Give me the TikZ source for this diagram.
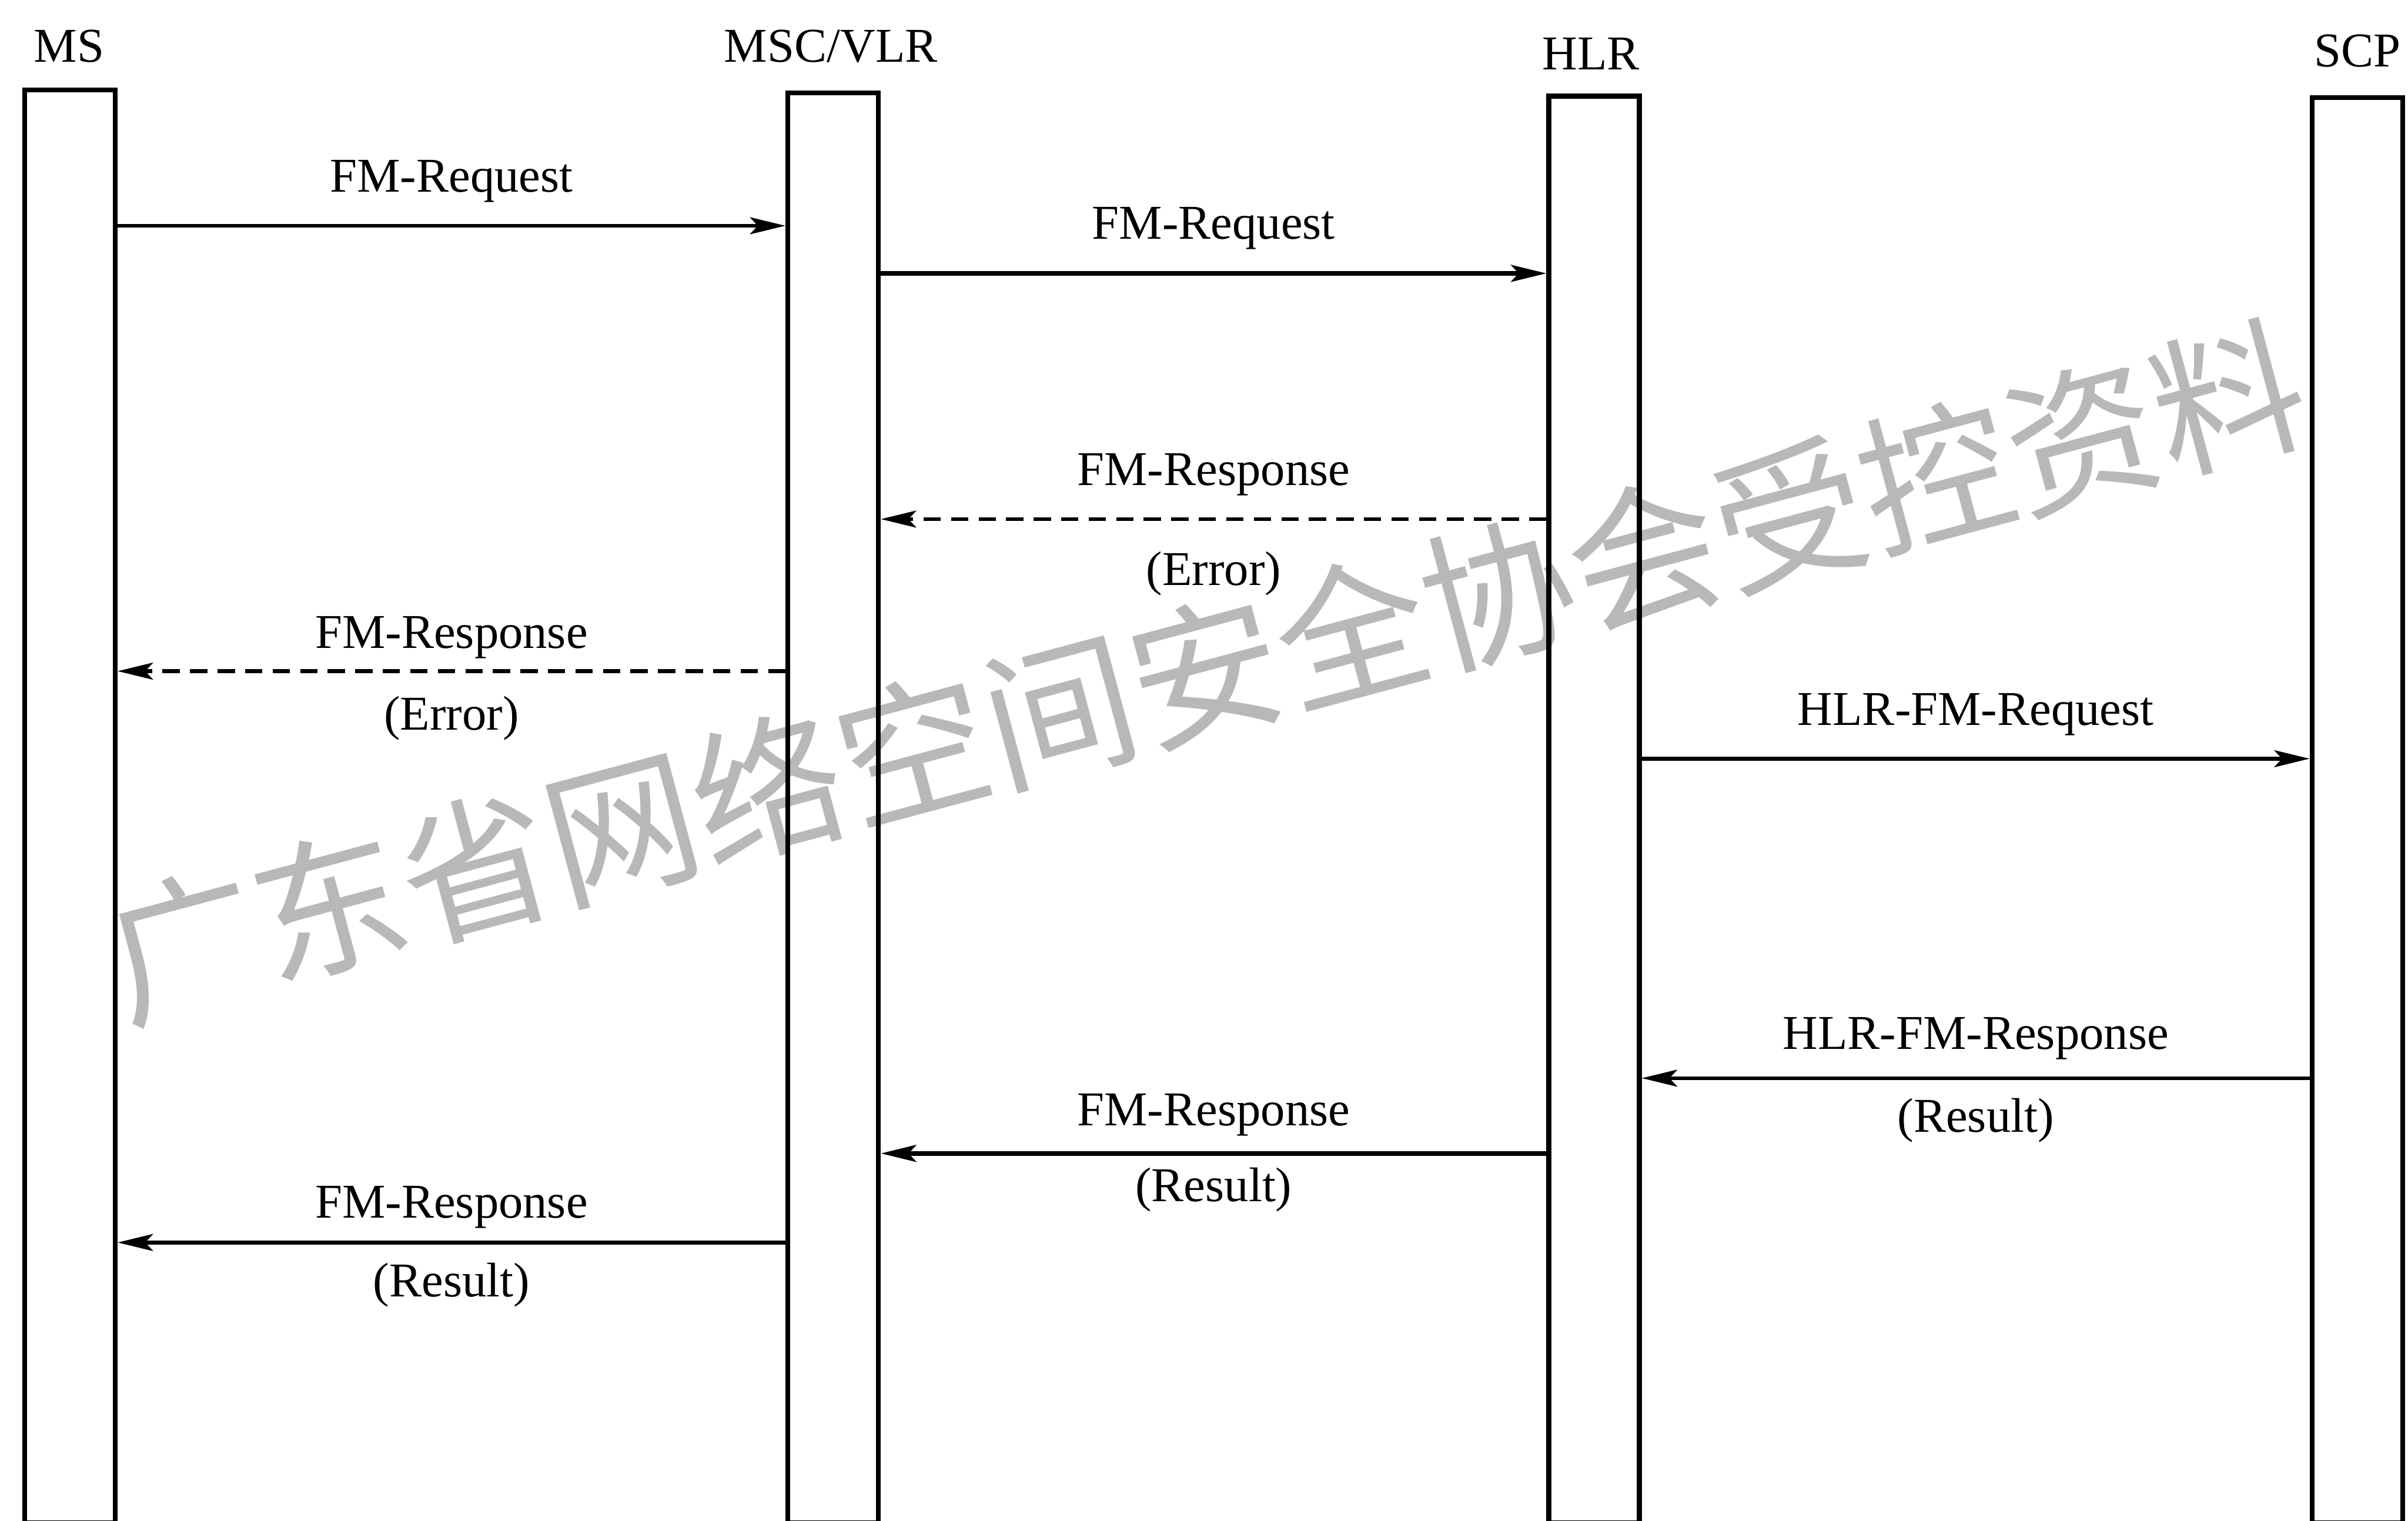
\documentclass[tikz,border=0pt]{standalone}
\usepackage{fontspec}
\setmainfont{Liberation Serif}
\newfontfamily\cjk{Noto Sans CJK SC}
\usetikzlibrary{arrows.meta,positioning}

\begin{document}
\begin{tikzpicture}[
  lifeline/.style={draw, line width=0.9pt, minimum width=0.59cm, anchor=north, inner sep=0pt},
  msg/.style={line width=0.7pt, -{Stealth[length=2.3mm,width=1.1mm,inset=0.5mm]}},
  reply/.style={msg, dash pattern=on 3.2pt off 1.9pt},
  txt/.style={font=\fontsize{9}{11}\selectfont, inner sep=0pt}
]
\useasboundingbox (0,0) rectangle (15.68,9.90);

% watermark
\node[rotate=15, text=black!28, font=\cjk\fontsize{28}{30}\selectfont] (wm) at (7.85,5.53) {广东省网络空间安全协会受控资料};

% lifelines
\node[lifeline, minimum height=9.33cm] (ms) at (0.455,9.33) {};
\node[lifeline, minimum height=9.31cm] (msc) at (5.425,9.31) {};
\node[lifeline, minimum height=9.29cm] (hlr) at (10.38,9.29) {};
\node[lifeline, minimum height=9.28cm] (scp) at (15.35,9.28) {};

\node[txt] (msl) at (0.45,9.60) {MS};
\node[txt] (mscl) at (5.41,9.60) {MSC/VLR};
\node[txt] (hlrl) at (10.36,9.55) {HLR};
\node[txt] (scpl) at (15.35,9.57) {SCP};

% messages
\draw[msg] (ms.east |- 0,8.43) -- node[txt, above=1.4mm] {FM-Request} (msc.west |- 0,8.43);
\draw[msg, line width=0.85pt] (msc.east |- 0,8.12) -- node[txt, above=1.4mm] {FM-Request} (hlr.west |- 0,8.12);
\draw[reply] (hlr.west |- 0,6.52) -- node[txt, above=1.4mm] {FM-Response} node[txt, below=2.0mm] {(Error)} (msc.east |- 0,6.52);
\draw[reply] (msc.west |- 0,5.53) -- node[txt, above=0.7mm] {FM-Response} node[txt, below=1.5mm] {(Error)} (ms.east |- 0,5.53);
\draw[msg] (hlr.east |- 0,4.96) -- node[txt, above=1.4mm] {HLR-FM-Request} (scp.west |- 0,4.96);
\draw[msg] (scp.west |- 0,2.88) -- node[txt, above=1.1mm] {HLR-FM-Response} node[txt, below=1.2mm] {(Result)} (hlr.east |- 0,2.88);
\draw[msg, line width=0.85pt] (hlr.west |- 0,2.39) -- node[txt, above=1.0mm] {FM-Response} node[txt, below=0.8mm] {(Result)} (msc.east |- 0,2.39);
\draw[msg] (msc.west |- 0,1.81) -- node[txt, above=0.8mm] {FM-Response} node[txt, below=1.2mm] {(Result)} (ms.east |- 0,1.81);
\end{tikzpicture}
\end{document}
